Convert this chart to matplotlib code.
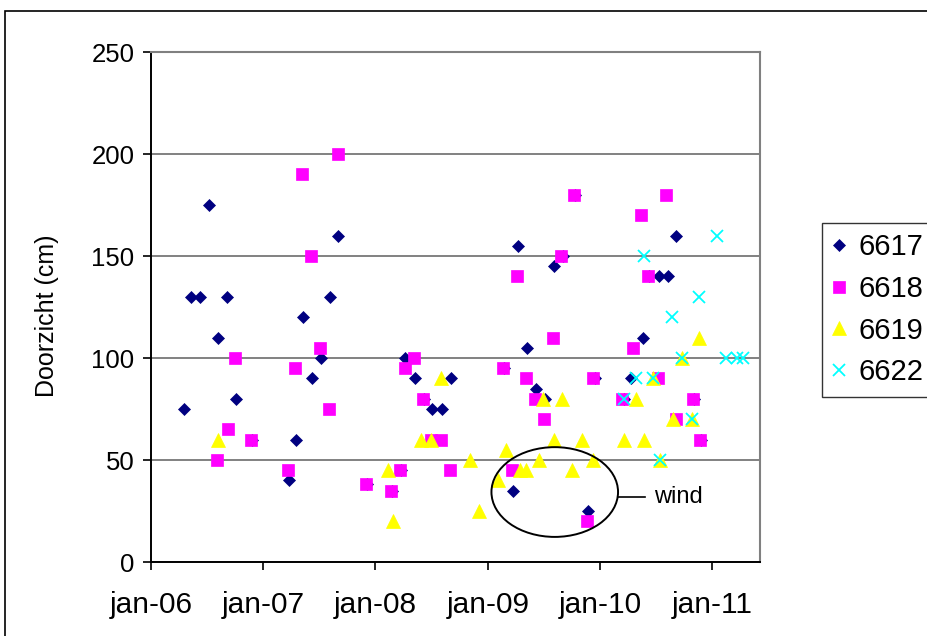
import pandas as pd
import matplotlib
matplotlib.use('Agg')
import matplotlib.pyplot as plt
import matplotlib.dates as mdates
from matplotlib.patches import Ellipse, Rectangle

plt.rcParams['font.family'] = ['Liberation Sans', 'DejaVu Sans']

# === data ===
d6617 = ['2006-04-18', '2006-05-10', '2006-06-09', '2006-07-09', '2006-08-07', '2006-09-04',
         '2006-10-04', '2006-11-25', '2007-03-26', '2007-04-18', '2007-05-10', '2007-06-09',
         '2007-07-07', '2007-08-05', '2007-09-03', '2007-12-05', '2008-02-23', '2008-03-24',
         '2008-04-08', '2008-05-09', '2008-06-06', '2008-07-05', '2008-08-05', '2008-09-02',
         '2009-02-22', '2009-03-24', '2009-04-10', '2009-05-09', '2009-06-06', '2009-07-07',
         '2009-08-03', '2009-09-02', '2009-10-12', '2009-11-22', '2009-12-15', '2010-03-20',
         '2010-04-13', '2010-05-21', '2010-06-11', '2010-07-11', '2010-08-09', '2010-09-06',
         '2010-11-03', '2010-11-27']
v6617 = [75, 130, 130, 175, 110, 130, 80, 60, 40, 60, 120, 90,
         100, 130, 160, 38, 35, 45, 100, 90, 80, 75, 75, 90,
         95, 35, 155, 105, 85, 80, 145, 150, 180, 25, 90, 80,
         90, 110, 140, 140, 140, 160, 80, 60]

d6618 = ['2006-08-04', '2006-09-07', '2006-09-30', '2006-11-21', '2007-03-23', '2007-04-14',
         '2007-05-07', '2007-06-06', '2007-07-05', '2007-08-02', '2007-09-01', '2007-12-03',
         '2008-02-21', '2008-03-20', '2008-04-06', '2008-05-06', '2008-06-04', '2008-07-01',
         '2008-08-01', '2008-08-30', '2009-02-20', '2009-03-20', '2009-04-07', '2009-05-06',
         '2009-06-04', '2009-07-03', '2009-08-02', '2009-08-27', '2009-10-09', '2009-11-19',
         '2009-12-11', '2010-03-15', '2010-04-18', '2010-05-16', '2010-06-08', '2010-07-10',
         '2010-08-04', '2010-09-05', '2010-11-01', '2010-11-24']
v6618 = [50, 65, 100, 60, 45, 95, 190, 150, 105, 75, 200, 38,
         35, 45, 95, 100, 80, 60, 60, 45, 95, 45, 140, 90,
         80, 70, 110, 150, 180, 20, 90, 80, 105, 170, 140, 90,
         180, 70, 80, 60]

d6619 = ['2006-08-06', '2008-02-12', '2008-02-29', '2008-05-30', '2008-06-30', '2008-08-03',
         '2008-11-03', '2008-12-03', '2009-02-03', '2009-02-28', '2009-04-17', '2009-05-05',
         '2009-06-18', '2009-06-29', '2009-08-04', '2009-09-01', '2009-10-01', '2009-11-03',
         '2009-12-09', '2010-03-22', '2010-04-28', '2010-05-25', '2010-06-24', '2010-07-15',
         '2010-08-26', '2010-09-25', '2010-10-27', '2010-11-20']
v6619 = [60, 45, 20, 60, 60, 90, 50, 25, 40, 55, 45, 45,
         50, 80, 60, 80, 45, 60, 50, 60, 80, 60, 90, 50,
         70, 100, 70, 110]

d6622 = ['2010-03-20', '2010-04-28', '2010-05-25', '2010-06-23', '2010-07-15', '2010-08-25',
         '2010-09-25', '2010-10-27', '2010-11-20', '2011-01-17', '2011-02-15', '2011-03-24',
         '2011-04-12']
v6622 = [80, 90, 150, 90, 50, 120, 100, 70, 130, 160, 100, 100, 100]

year_ticks = ['2006-01-01', '2007-01-01', '2008-01-01', '2009-01-01', '2010-01-01', '2011-01-01']
year_labels = ['jan-06', 'jan-07', 'jan-08', 'jan-09', 'jan-10', 'jan-11']

fig = plt.figure(figsize=(9.28, 6.36), dpi=100)
ax = fig.add_axes([151/928, 1 - 562/636, (760 - 151)/928, (562 - 52)/636])

# outer chart border
fig.patches.append(Rectangle((5/928, -0.05), 1.1, 0.05 + 1 - 11/636, transform=fig.transFigure,
                             fill=False, edgecolor='black', linewidth=1.2))

ax.plot(pd.to_datetime(d6617), v6617, ls='none', marker='D', ms=6.6, color='#000080',
        mec='#000080', mew=0.5, label='6617', zorder=3)
ax.plot(pd.to_datetime(d6618), v6618, ls='none', marker='s', ms=8, color='#FF00FF',
        mec='#FF00FF', mew=0.5, label='6618', zorder=4)
ax.plot(pd.to_datetime(d6619), v6619, ls='none', marker='^', ms=10, color='#FFFF00',
        mec='#FFFF00', mew=0.5, label='6619', zorder=5)
ax.plot(pd.to_datetime(d6622), v6622, ls='none', marker='x', ms=8.5, color='#00FFFF',
        mew=1.3, label='6622', zorder=6)

ax.set_xlim(pd.Timestamp('2006-01-01'), pd.Timestamp('2011-06-06'))
ax.set_ylim(0, 250)
ax.set_yticks(range(0, 251, 50))
ax.set_xticks(pd.to_datetime(year_ticks))
ax.set_xticklabels(year_labels)
ax.tick_params(axis='both', direction='out', length=6, width=1.2, color='black')
ax.tick_params(axis='x', labelsize=21.5, pad=15)
ax.tick_params(axis='y', labelsize=18.5, pad=6)

ax.grid(axis='y', color='#777777', linewidth=1.3)
ax.set_axisbelow(True)
ax.spines['left'].set_color('black')
ax.spines['bottom'].set_color('black')
ax.spines['left'].set_linewidth(1.4)
ax.spines['bottom'].set_linewidth(1.4)
for s in ['top', 'right']:
    ax.spines[s].set_color('#808080')
    ax.spines[s].set_linewidth(1.5)

ax.set_ylabel('Doorzicht (cm)', fontsize=18)
ax.yaxis.set_label_coords(-0.151, 0.482)

# "wind" annotation
c = mdates.date2num(pd.Timestamp('2009-08-07'))
ax.add_patch(Ellipse((c, 34.3), 412, 44, fill=False, edgecolor='black', linewidth=1.4, zorder=7))
ax.plot([mdates.date2num(pd.Timestamp('2010-02-28')), mdates.date2num(pd.Timestamp('2010-05-27'))],
        [31.9, 31.9], color='black', linewidth=1.2, zorder=7)
ax.text(mdates.date2num(pd.Timestamp('2010-06-25')), 31.9, 'wind', fontsize=17, va='center', ha='left')

leg = ax.legend(loc='upper left', bbox_to_anchor=(822/928, 1 - 223/636), bbox_transform=fig.transFigure,
                borderaxespad=0, fontsize=21, frameon=True, fancybox=False, edgecolor='black',
                handlelength=0.5, handletextpad=0.4, labelspacing=0.47, borderpad=0.35)
leg.get_frame().set_linewidth(1.0)

fig.savefig('out.png', dpi=100)
